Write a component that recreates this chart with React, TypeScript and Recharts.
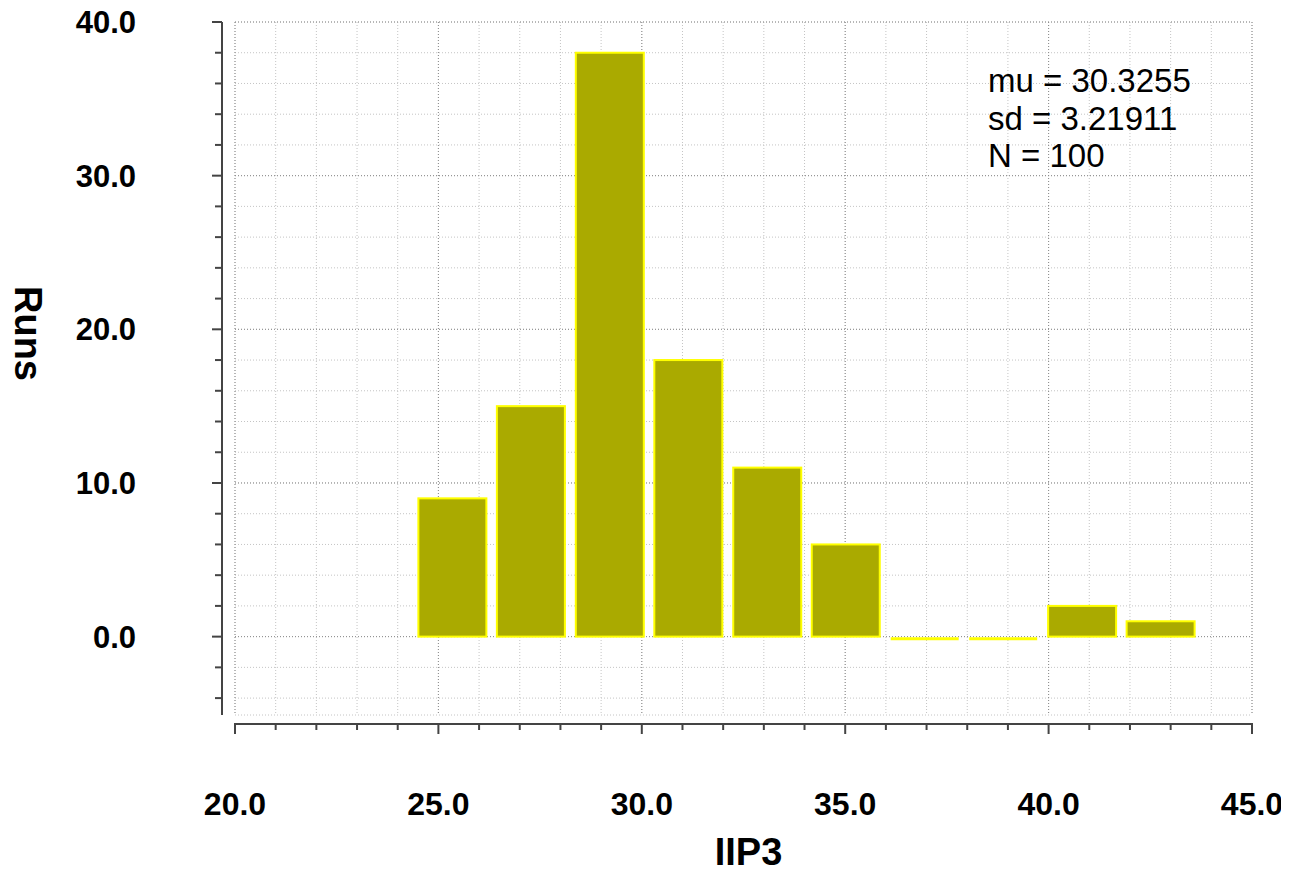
import { Bar, CartesianGrid, ComposedChart, XAxis, YAxis } from "recharts";

// histogram bins (IIP3 bin centres) and run counts per bin
const binCenters = [25.35, 27.28, 29.22, 31.15, 33.09, 35.02, 36.96, 38.89, 40.83, 42.76];
const runCounts = [9, 15, 38, 18, 11, 6, 0, 0, 2, 1];

const xTicks = [20, 21, 22, 23, 24, 25, 26, 27, 28, 29, 30, 31, 32, 33, 34, 35, 36, 37, 38, 39, 40, 41, 42, 43, 44, 45];
const xMajorTicks = [20, 25, 30, 35, 40, 45];
const yTicks = [-4, -2, 0, 2, 4, 6, 8, 10, 12, 14, 16, 18, 20, 22, 24, 26, 28, 30, 32, 34, 36, 38, 40];
const yMajorTicks = [0, 10, 20, 30, 40];

const statLines = ["mu = 30.3255", "sd = 3.21911", "N = 100"];

const histData = binCenters.map((iip3, i) => ({ iip3, runs: runCounts[i] }));

const FONT = '"Liberation Sans", Arial, Helvetica, sans-serif';
const AXIS = "#444444";
const BAR_FILL = "#aaaa00";
const BAR_EDGE = "#ffff00";

const XTick = ({ x, y, payload }: any) => {
  const major = xMajorTicks.includes(payload.value);
  return (
    <g>
      <line x1={x} x2={x} y1={y + 8} y2={y + 9 + (major ? 10 : 6)} stroke={AXIS} strokeWidth={2} />
      {major && (
        <text x={x} y={y + 100} textAnchor="middle" fontFamily={FONT} fontSize={32} fontWeight="bold" fill="#000">
          {payload.value.toFixed(1)}
        </text>
      )}
    </g>
  );
};

const YTick = ({ x, y, payload }: any) => {
  const major = yMajorTicks.includes(payload.value);
  return (
    <g>
      <line x1={x - 13 - (major ? 10 : 7)} x2={x - 13} y1={y} y2={y} stroke={AXIS} strokeWidth={2} />
      {major && (
        <text x={x - 99} y={y + 11} textAnchor="end" fontFamily={FONT} fontSize={31} fontWeight="bold" fill="#000">
          {payload.value.toFixed(1)}
        </text>
      )}
    </g>
  );
};

const RunsTitle = ({ viewBox }: any) => {
  const bx = viewBox.x + 7;
  const cy = viewBox.y + viewBox.height / 2 - 35;
  return (
    <text
      x={bx}
      y={cy}
      transform={`rotate(90 ${bx} ${cy})`}
      textAnchor="middle"
      fontFamily={FONT}
      fontSize={38}
      fontWeight="bold"
      fill="#000"
    >
      Runs
    </text>
  );
};

// empty bins still show a flat yellow edge on the baseline
const HistBar = ({ x, y, width, height }: any) => {
  if (!height) {
    return <line x1={x} x2={x + width} y1={y + 2} y2={y + 2} stroke={BAR_EDGE} strokeWidth={3} />;
  }
  return <rect x={x} y={y} width={width} height={height} fill={BAR_FILL} stroke={BAR_EDGE} strokeWidth={2} />;
};

export default function App() {
  return (
    <div style={{ position: "relative", width: 1281, height: 859, background: "#fff" }}>
      <style>{".recharts-surface { overflow: visible; }"}</style>
      <ComposedChart width={1281} height={859} data={histData} margin={{ top: 14, right: 37, bottom: 2, left: 0 }}>
        <CartesianGrid stroke="#c4c4c4" strokeDasharray="1 2" />
        <CartesianGrid
          stroke="#8c8c8c"
          strokeDasharray="1 2"
          horizontalValues={yMajorTicks}
          verticalValues={xMajorTicks}
        />
        <XAxis
          dataKey="iip3"
          type="number"
          domain={[20, 45]}
          allowDataOverflow
          ticks={xTicks}
          interval={0}
          tickSize={0}
          tickMargin={0}
          tickLine={false}
          tick={(p: any) => <XTick {...p} />}
          axisLine={{ stroke: AXIS, strokeWidth: 2, transform: "translate(0, 9)" }}
          height={150}
          label={{
            value: "IIP3",
            position: "insideBottom",
            offset: 0,
            dx: 5,
            fontFamily: FONT,
            fontSize: 38,
            fontWeight: "bold",
            fill: "#000",
          }}
        />
        <YAxis
          type="number"
          domain={[-5.1, 40]}
          allowDataOverflow
          ticks={yTicks}
          interval={0}
          tickSize={0}
          tickMargin={0}
          tickLine={false}
          tick={(p: any) => <YTick {...p} />}
          axisLine={{ stroke: AXIS, strokeWidth: 2, transform: "translate(-13, 0)" }}
          width={227}
          label={{ content: (p: any) => <RunsTitle {...p} /> }}
        />
        <Bar dataKey="runs" barSize={68} shape={(p: any) => <HistBar {...p} />} isAnimationActive={false} />
      </ComposedChart>
      <div
        style={{
          position: "absolute",
          left: 980,
          top: 54,
          fontFamily: FONT,
          fontSize: 33,
          lineHeight: "37.5px",
          color: "#000",
          whiteSpace: "pre",
        }}
      >
        {statLines.map((line) => (
          <div key={line}>{line}</div>
        ))}
      </div>
    </div>
  );
}
